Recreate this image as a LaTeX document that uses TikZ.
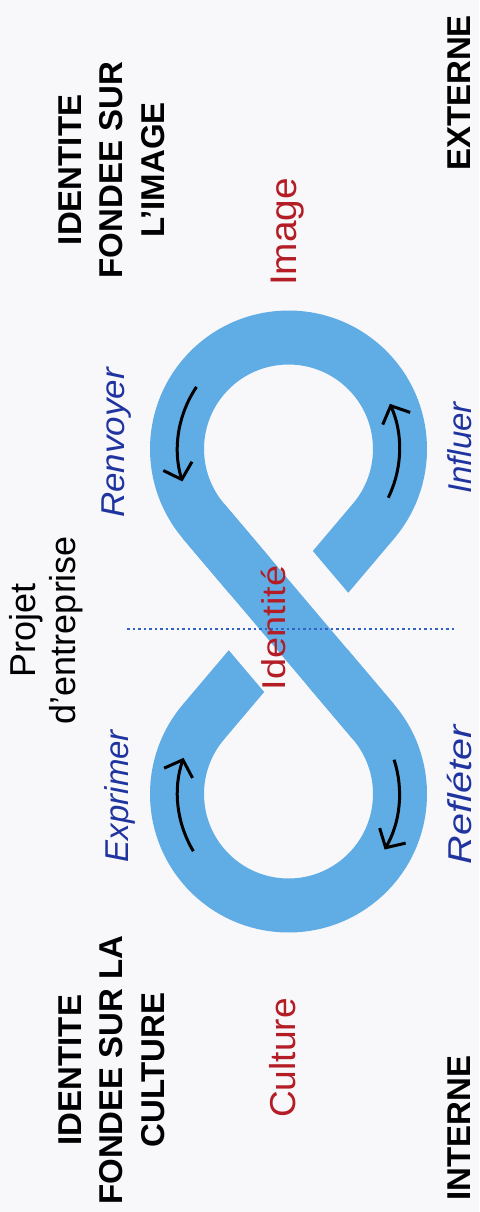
\documentclass[tikz,border=0pt]{standalone}
\usepackage{fontspec}
\setmainfont{Liberation Sans}
\usetikzlibrary{arrows.meta,calc}
\definecolor{bandblue}{RGB}{96,172,228}
\definecolor{bgc}{RGB}{248,248,250}
\definecolor{lblred}{RGB}{180,28,38}
\definecolor{lblblue}{RGB}{32,52,160}
\definecolor{dashblue}{RGB}{50,100,200}
\begin{document}
\begin{tikzpicture}[x=1pt,y=1pt,
  band/.style={line width=54pt, draw=bandblue, line cap=butt},
  headlbl/.style={font=\bfseries\fontsize{33}{41.5}\selectfont, align=center, rotate=90, inner sep=0pt},
  redlbl/.style={text=lblred, rotate=90, inner sep=0pt},
  bluelbl/.style={text=lblblue, font=\itshape\fontsize{33}{40}\selectfont, rotate=90, inner sep=0pt},
  flow/.style={line width=3pt, draw=black, -{Straight Barb[length=14pt,width=30pt]}}
]
\fill[bgc] (0,0) rectangle (479,-1212);
\useasboundingbox (0,0) rectangle (479,-1212);

\coordinate (C1) at (288.5,-449);
\coordinate (C2) at (288.5,-794);
\coordinate (M) at (288.5,-621.5);
\path (C1) ++(-40.27:111.5) coordinate (T2);
\path (C1) ++(220.27:111.5) coordinate (T1);
\path (C2) ++(40.27:111.5) coordinate (T3);
\path (C2) ++(139.73:111.5) coordinate (T4);

% figure-eight band
\draw[band] (T2) arc[start angle=-40.27, end angle=220.27, radius=111.5] -- (T3)
  arc[start angle=40.27, end angle=-220.27, radius=111.5] -- cycle;
% gap in the interrupted strip
\begin{scope}[shift={(M)}, rotate=-49.73]
  \fill[bgc] (-60,-64) rectangle (60,64);
\end{scope}
% continuous strip on top
\draw[band] (T1) -- (T3);

% flow arrows
\draw[flow] (C1) ++(146:111) arc[start angle=146, end angle=197, radius=111];
\draw[flow] (C1) ++(-26:111) arc[start angle=-26, end angle=24, radius=111];
\draw[flow] (C2) ++(211:111) arc[start angle=211, end angle=161, radius=111];
\draw[flow] (C2) ++(18:111) arc[start angle=18, end angle=-30, radius=111];

% dashed axis
\coordinate (dL) at (127,-629);
\coordinate (dR) at (455,-629);
\draw[dashblue, line width=1.3pt, dash pattern=on 2.5pt off 3pt] (dL) -- (dR);

% headings
\node[headlbl] (hImg) at (111.5,-170) {IDENTITE\\FONDEE SUR\\L’IMAGE};
\node[headlbl] (hCul) at (111.5,-1070) {IDENTITE\\FONDEE SUR LA\\CULTURE};
\node[headlbl] (ext) at (459.5,-93) {EXTERNE};
\node[headlbl] (int) at (459.5,-1128) {INTERNE};
\node[font=\fontsize{36}{40}\selectfont, align=center, rotate=90, inner sep=0pt] (proj) at (46,-630) {Projet\\d’entreprise};

% red labels
\node[redlbl, font=\fontsize{37}{40}\selectfont, xscale=1.05] (img) at (287.5,-232) {Image};
\node[redlbl, font=\fontsize{33}{40}\selectfont, xscale=1.15] (ident) at (273.5,-628) {Identité};
\node[redlbl, font=\fontsize{36}{40}\selectfont, xscale=1.03] (cult) at (282.5,-1058) {Culture};

% blue italic labels
\node[bluelbl, xscale=1.06] (renv) at (117,-443) {Renvoyer};
\node[bluelbl] (infl) at (460,-448) {Influer};
\node[bluelbl] (expr) at (120,-796) {Exprimer};
\node[bluelbl, xscale=1.2] (refl) at (460,-795) {Refléter};
\end{tikzpicture}
\end{document}
